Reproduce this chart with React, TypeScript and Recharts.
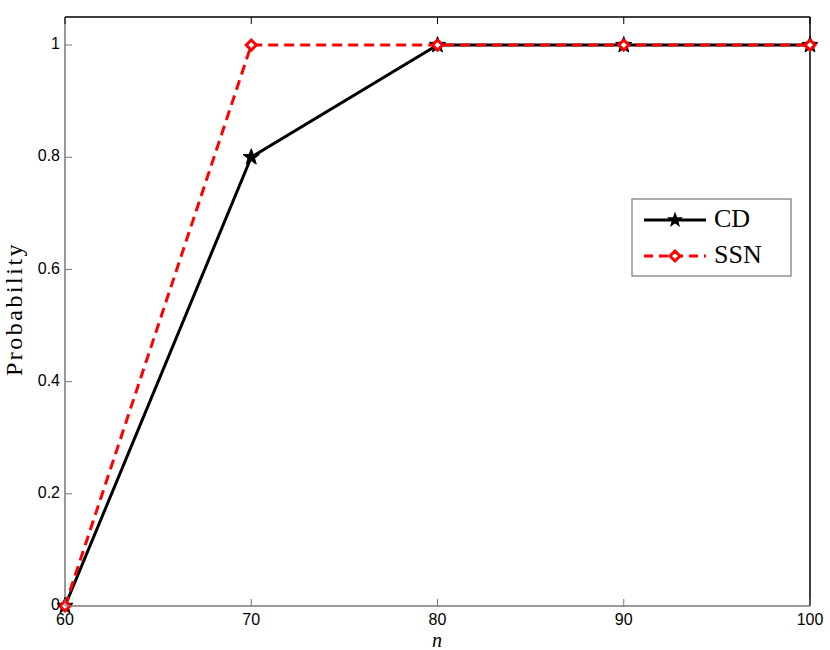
import React from 'react';
import { LineChart, Line, XAxis, YAxis } from 'recharts';

const nValues = [60, 70, 80, 90, 100];
const cdValues = [0, 0.8, 1, 1, 1];
const ssnValues = [0, 1, 1, 1, 1];
const xTicks = [60, 70, 80, 90, 100];
const yTicks = [0, 0.2, 0.4, 0.6, 0.8, 1];

const data = nValues.map((n, i) => ({ n, cd: cdValues[i], ssn: ssnValues[i] }));

const TICK_LEN = 7;
const AXIS_GREY = '#777';
const tickFont = { fontFamily: 'Liberation Sans, Arial, sans-serif', fontSize: 16, fill: '#000' };
const serif = 'Liberation Serif, "DejaVu Serif", serif';

const starPoints = (cx: number, cy: number, R: number, r: number) => {
  const pts: string[] = [];
  for (let i = 0; i < 10; i++) {
    const rad = i % 2 === 0 ? R : r;
    const a = -Math.PI / 2 + (i * Math.PI) / 5;
    pts.push(`${cx + rad * Math.cos(a)},${cy + rad * Math.sin(a)}`);
  }
  return pts.join(' ');
};

const StarDot = (props: any) => {
  const { cx, cy } = props;
  if (cx == null || cy == null) return null;
  return <polygon points={starPoints(cx, cy, 8.5, 3.5)} fill="#000" stroke="#000" strokeWidth={1} />;
};

const DiamondDot = (props: any) => {
  const { cx, cy } = props;
  if (cx == null || cy == null) return null;
  const s = 5;
  return (
    <polygon
      points={`${cx},${cy - s} ${cx + s},${cy} ${cx},${cy + s} ${cx - s},${cy}`}
      fill="#fff"
      stroke="#ff0000"
      strokeWidth={3}
    />
  );
};

const BottomTick = (props: any) => {
  const { x, y, payload } = props;
  return (
    <g>
      <line x1={x} y1={y} x2={x} y2={y - TICK_LEN} stroke={AXIS_GREY} strokeWidth={1} />
      <text x={x} y={y + 15} textAnchor="middle" dominantBaseline="middle" {...tickFont}>
        {payload.value}
      </text>
    </g>
  );
};

const TopTick = (props: any) => {
  const { x, y } = props;
  return <line x1={x} y1={y} x2={x} y2={y + TICK_LEN} stroke="#000" strokeWidth={1} />;
};

const LeftTick = (props: any) => {
  const { x, y, payload } = props;
  return (
    <g>
      <line x1={x} y1={y} x2={x + TICK_LEN} y2={y} stroke={AXIS_GREY} strokeWidth={1} />
      <text x={x - 5} y={y} textAnchor="end" dominantBaseline="middle" {...tickFont}>
        {payload.value === 0 ? '0' : payload.value === 1 ? '1' : payload.value.toFixed(1)}
      </text>
    </g>
  );
};

const RightTick = (props: any) => {
  const { x, y } = props;
  return <line x1={x} y1={y} x2={x - TICK_LEN} y2={y} stroke="#000" strokeWidth={1} />;
};

const LegendBox = () => (
  <svg width={162} height={80} style={{ display: 'block' }}>
    <rect x={1} y={1} width={159} height={77} fill="#fff" stroke={AXIS_GREY} strokeWidth={1.2} />
    <line x1={13} y1={22} x2={75} y2={22} stroke="#000" strokeWidth={3} />
    <polygon points={starPoints(44, 22, 8.5, 3.5)} fill="#000" />
    <text x={83} y={23} dominantBaseline="middle" fontFamily={serif} fontSize={26} fill="#000">
      CD
    </text>
    <line x1={13} y1={58} x2={75} y2={58} stroke="#ff0000" strokeWidth={3} strokeDasharray="9 6" />
    <polygon points="44,53 49,58 44,63 39,58" fill="#fff" stroke="#ff0000" strokeWidth={3} />
    <text x={83} y={59} dominantBaseline="middle" fontFamily={serif} fontSize={26} fill="#000">
      SSN
    </text>
  </svg>
);

export default function App() {
  return (
    <div style={{ position: 'absolute', left: 0, top: 0, width: 830, height: 650, background: '#fff' }}>
      <LineChart width={830} height={650} data={data} margin={{ top: 16, right: 19, bottom: 0, left: 0 }}>
        <XAxis
          xAxisId="bottom"
          dataKey="n"
          type="number"
          domain={[60, 100]}
          ticks={xTicks}
          height={44}
          tickSize={0}
          tickMargin={0}
          tickLine={false}
          axisLine={{ stroke: AXIS_GREY, strokeWidth: 1.5 }}
          tick={<BottomTick />}
          interval={0}
        />
        <XAxis
          xAxisId="top"
          dataKey="n"
          type="number"
          orientation="top"
          domain={[60, 100]}
          ticks={xTicks}
          height={1}
          tickSize={0}
          tickMargin={0}
          tickLine={false}
          axisLine={{ stroke: '#000', strokeWidth: 1.5 }}
          tick={<TopTick />}
          interval={0}
        />
        <YAxis
          yAxisId="left"
          type="number"
          domain={[0, 1.05]}
          ticks={yTicks}
          width={65}
          tickSize={0}
          tickMargin={0}
          tickLine={false}
          axisLine={{ stroke: AXIS_GREY, strokeWidth: 1.5 }}
          tick={<LeftTick />}
          interval={0}
        />
        <YAxis
          yAxisId="right"
          type="number"
          orientation="right"
          domain={[0, 1.05]}
          ticks={yTicks}
          width={1}
          tickSize={0}
          tickMargin={0}
          tickLine={false}
          axisLine={{ stroke: '#000', strokeWidth: 1.5 }}
          tick={<RightTick />}
          interval={0}
        />
        <Line
          xAxisId="bottom"
          yAxisId="left"
          dataKey="cd"
          name="CD"
          stroke="#000"
          strokeWidth={3}
          dot={<StarDot />}
          activeDot={false}
          isAnimationActive={false}
        />
        <Line
          xAxisId="bottom"
          yAxisId="left"
          dataKey="ssn"
          name="SSN"
          stroke="#ff0000"
          strokeWidth={3}
          strokeDasharray="10 6"
          dot={<DiamondDot />}
          activeDot={false}
          isAnimationActive={false}
        />
        <text
          x={16}
          y={309}
          transform="rotate(-90 16 309)"
          textAnchor="middle"
          dominantBaseline="middle"
          fontFamily={serif}
          fontSize={24}
          letterSpacing={2.5}
          fill="#000"
        >
          Probability
        </text>
        <text
          x={437}
          y={647}
          textAnchor="middle"
          fontFamily={serif}
          fontStyle="italic"
          fontSize={20}
          fill="#000"
        >
          n
        </text>
      </LineChart>
      <div style={{ position: 'absolute', left: 631, top: 198 }}>
        <LegendBox />
      </div>
    </div>
  );
}
